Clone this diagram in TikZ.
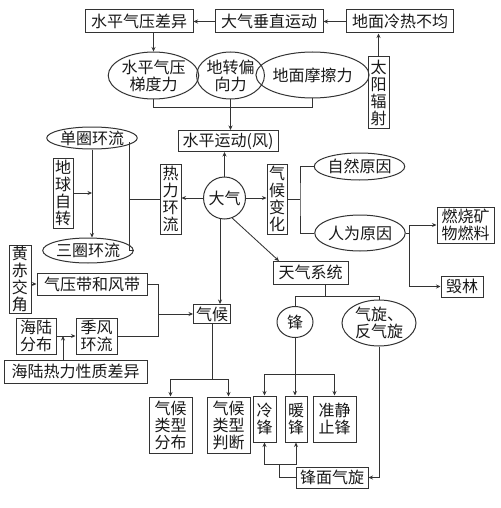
\documentclass[tikz,border=0pt]{standalone}
\usepackage{fontspec}
\newfontfamily\cjk{Noto Sans CJK SC}
\usetikzlibrary{shapes.geometric,arrows.meta}
\begin{document}
\begin{tikzpicture}[x=1pt,y=-1pt,
  every node/.style={font=\cjk\fontsize{16}{17}\selectfont, text=black!90},
  bx/.style={draw=black!80, line width=1pt, rectangle, inner sep=0pt, align=center},
  el/.style={draw=black!80, line width=1pt, ellipse, inner sep=0pt, align=center},
  sz/.style 2 args={minimum width=#1pt, minimum height=#2pt},
  ln/.style={draw=black!80, line width=0.85pt},
  arr/.style={ln, -{Stealth[length=4.5pt,width=4pt]}}]
\fill[white] (0,0) rectangle (500,508);
\useasboundingbox (0,0) rectangle (500,508);
% top row
\node[bx,sz={108}{23}] (n1) at (139,21.5) {水平气压差异};
\node[bx,sz={108}{23}] (n2) at (269,21.5) {大气垂直运动};
\node[bx,sz={107}{23}] (n3) at (400,21.5) {地面冷热不均};
\node[bx,sz={21}{71}] (n4) at (378.5,92.5) {太\\阳\\辐\\射};
% forces
\node[el,sz={87}{47}] (e1) at (153.5,75.5) {水平气压\\梯度力};
\node[el,sz={65}{47}] (e2) at (230.5,75.5) {地转偏\\向力};
\node[el,sz={95}{46}] (e3) at (312.5,75) {地面摩擦力};
\node[bx,sz={100}{21}] (n5) at (228,141) {水平运动(风)};
% centre
\node[draw=black!80, line width=1pt, circle, inner sep=0pt, minimum size=42pt] (c) at (224.5,198) {大气};
\node[bx,sz={21}{70}] (n6) at (170.5,199) {热\\力\\环\\流};
\node[bx,sz={20}{70}] (n7) at (277,199) {气\\候\\变\\化};
% left
\node[el,sz={80}{22}] (e4) at (92,138) {单圈环流};
\node[el,sz={88}{25}] (e5) at (88,250.5) {三圈环流};
\node[bx,sz={20}{70}] (n8) at (63,193) {地\\球\\自\\转};
\node[bx,sz={22}{68}] (n9) at (20,279) {黄\\赤\\交\\角};
\node[bx,sz={110}{22}] (n10) at (92,284) {气压带和风带};
\node[bx,sz={40}{36}] (n11) at (36,336) {海陆\\分布};
\node[bx,sz={41}{36}] (n12) at (96.5,336) {季风\\环流};
\node[bx,sz={143}{23}] (n13) at (75.5,371.5) {海陆热力性质差异};
\node[bx,sz={37}{19}] (n14) at (212,314) {气候};
\node[bx,sz={43}{56}] (n15) at (170.5,425) {气候\\类型\\分布};
\node[bx,sz={43}{56}] (n16) at (228.5,425) {气候\\类型\\判断};
% right
\node[el,sz={77}{27}] (e6) at (359.5,166.5) {自然原因};
\node[el,sz={78}{36}] (e7) at (360,233) {人为原因};
\node[bx,sz={57}{36}] (n17) at (465.5,225) {燃烧矿\\物燃料};
\node[bx,sz={42}{21}] (n18) at (462,286.5) {毁林};
\node[bx,sz={75}{23}] (n19) at (310.5,272.5) {天气系统};
\node[el,sz={36}{31}] (e8) at (295,322) {锋};
\node[el,sz={74}{46}] (e9) at (379,323) {气旋、\\反气旋};
\node[bx,sz={23}{46}] (n20) at (264.5,419) {冷\\锋};
\node[bx,sz={22}{46}] (n21) at (296,419) {暖\\锋};
\node[bx,sz={43}{46}] (n22) at (334.5,419) {准静\\止锋};
\node[bx,sz={72}{21}] (n23) at (332,477.5) {锋面气旋};
% junction coordinates
\coordinate (v1) at (129,142);
\coordinate (v2) at (129,250.5);
\coordinate (k) at (158,314);
\coordinate (m) at (63,336);
\coordinate (q) at (212,379);
\coordinate (r) at (300,199);
\coordinate (s) at (409,233);
\coordinate (t) at (325,296);
\coordinate (u) at (295,374);
\coordinate (z) at (279,464);
\coordinate (ws) at (279,261);
% connectors: top
\draw[arr] (n2.west) -- (n1.east);
\draw[arr] (n3.west) -- (n2.east);
\draw[arr] (n4.north) -- (n4.north |- n3.south);
\draw[arr] (n1.south -| e1.north) -- (e1.north);
\draw[ln] (e1.south) -- ++(0,8) -| (e3.south);
\draw[arr] (e2.south) -- (e2.south |- n5.north);
% centre
\draw[arr] (c.north) -- (c.north |- n5.south);
\draw[arr] (c.west) -- (c.west -| n6.east);
\draw[arr] (c.east) -- (c.east -| n7.west);
\draw[arr] (c.258) -- (c.258 |- n14.north);
\draw[arr] (c.-69) -- (ws);
% left
\draw[ln] (v1) -- (v2) -- (e5.east);
\draw[ln] (n6.west) -- (n6.west -| v1);
\draw[arr] (e4.south) -- (e4.south |- e5.north);
\draw[arr] (n8.east) -- (n8.east -| e4.south);
\draw[arr] (n9.east |- n10.west) -- (n10.west);
\draw[ln] (n10.east) -- (n10.east -| k) -- (n12.east -| k) -- (n12.east);
\draw[arr] (k) -- (n14.west);
\draw[arr] (n11.east) -- (n12.west);
\draw[arr] (m |- n13.north) -- (m);
\draw[ln] (n14.south) -- (q);
\draw[arr] (q) -| (n15.north);
\draw[arr] (q) -| (n16.north);
% right
\draw[ln] (n7.east) -- (r);
\draw[ln] (e6.west) -| (r) -- (r |- e7.west) -- (e7.west);
\draw[ln] (e7.east) -- (s);
\draw[arr] (s) |- (n17.west);
\draw[arr] (s) |- (n18.west);
\draw[ln] (t |- n19.south) -- (t);
\draw[ln] (t) -| (e8.north);
\draw[ln] (t) -| (e9.north);
\draw[ln] (e8.south) -- (u);
\draw[arr] (u) -| (n20.north);
\draw[arr] (u) -- (u |- n21.north);
\draw[arr] (u) -| (n22.north);
\draw[arr] (e9.south) |- (n23.east);
\draw[ln] (n23.west) -| (z);
\draw[arr] (z) -| (n20.south);
\draw[arr] (z) -| (n21.south);
\end{tikzpicture}
\end{document}
